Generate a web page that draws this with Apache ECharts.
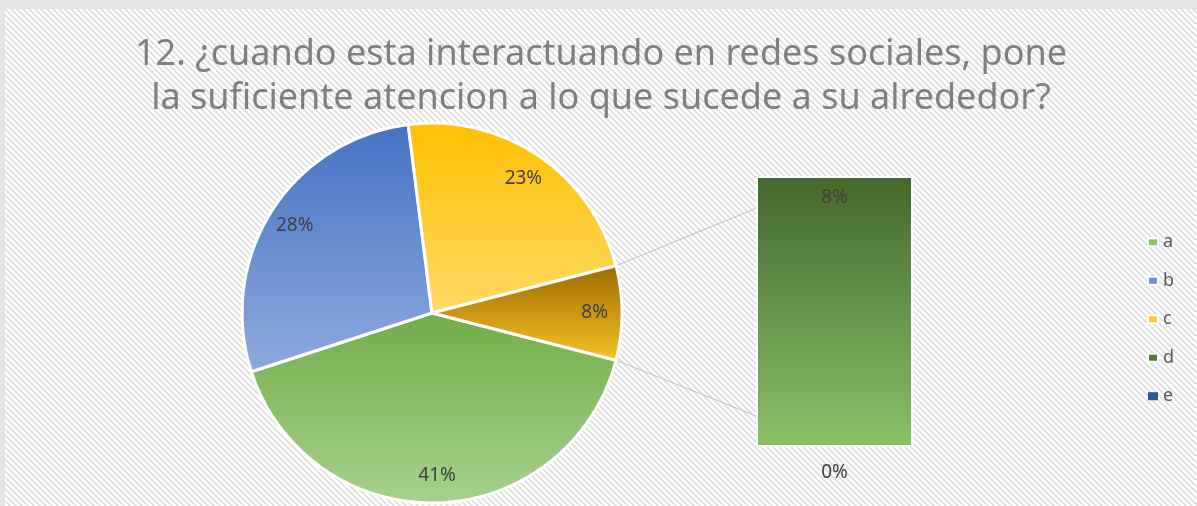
<!DOCTYPE html>
<html>
<head>
<meta charset="utf-8">
<script src="https://cdn.jsdelivr.net/npm/echarts@6/dist/echarts.min.js"></script>
<style>
  html, body { margin: 0; padding: 0; background: #e3e3e3; }
  #main { position: absolute; left: 5px; top: 9px; width: 1192px; height: 497px; }
</style>
</head>
<body>
<div id="main"></div>
<script>
// answers and share (%)
var categories = ['a', 'b', 'c', 'd', 'e'];
var values = [41, 28, 23, 8, 0];
// first three go in the pie, the rest into the bar
var pieCount = 3;
var otherName = 'Otro';

var topColors = ['#70AD47', '#4472C4', '#FFC000'];
var bottomColors = ['#A9D18E', '#8FAADC', '#FFD966'];
var legendColors = ['#8BC36A', '#6F93D6', '#FFC933', '#4E7A32', '#2E5597'];

function grad(a, b) {
    return new echarts.graphic.LinearGradient(0, 0, 0, 1, [
        { offset: 0, color: a }, { offset: 1, color: b }
    ]);
}

// diagonal hatch like excel's background
var hatch = document.createElement('canvas');
hatch.width = 6; hatch.height = 6;
var hc = hatch.getContext('2d');
hc.fillStyle = '#ffffff';
hc.fillRect(0, 0, 6, 6);
hc.strokeStyle = '#dedede';
hc.lineWidth = 1.6;
hc.beginPath();
hc.moveTo(-1, -1); hc.lineTo(7, 7);
hc.moveTo(-1, 5); hc.lineTo(1, 7);
hc.moveTo(5, -1); hc.lineTo(7, 1);
hc.stroke();

var otherValue = 0;
for (var i = pieCount; i < values.length; i++) otherValue += values[i];
var total = otherValue;
for (var i = 0; i < pieCount; i++) total += values[i];
var halfOther = otherValue / total * 180;

var pieData = [];
var labelData = [];
for (var i = 0; i < pieCount; i++) {
    pieData.push({ name: categories[i], value: values[i], itemStyle: { color: grad(topColors[i], bottomColors[i]) } });
    labelData.push({ name: categories[i], value: values[i] });
}
pieData.push({ name: otherName, value: otherValue, itemStyle: { color: grad('#9C6A00', '#F7C325') } });
labelData.push({ name: otherName, value: otherValue });

var cx = 427, cy = 304, r = 190;
var labelFont = { fontSize: 19, fontFamily: 'Noto Sans', color: '#404040' };

var option = {
    backgroundColor: { image: hatch, repeat: 'repeat' },
    animation: false,
    title: {
        text: '12. ¿cuando esta interactuando en redes sociales, pone\nla suficiente atencion a lo que sucede a su alrededor?',
        left: 'center',
        top: 19,
        textStyle: {
            fontFamily: 'Noto Sans',
            fontWeight: 'normal',
            fontSize: 36,
            lineHeight: 44,
            color: '#7f7f7f'
        }
    },
    legend: {
        orient: 'vertical',
        left: 1137,
        top: 219,
        itemWidth: 10,
        itemHeight: 8,
        itemGap: 20,
        icon: 'rect',
        textStyle: { fontSize: 18, color: '#595959', fontFamily: 'Noto Sans', lineHeight: 18.5 },
        data: categories.map(function (c, i) {
            return { name: c, itemStyle: { color: legendColors[i] } };
        })
    },
    grid: { left: 751, top: 167, width: 157, height: 271 },
    xAxis: { type: 'category', data: [otherName], show: false },
    yAxis: { type: 'value', min: 0, max: otherValue, show: false },
    series: [
        {
            type: 'pie',
            center: [cx, cy],
            radius: [0, r],
            startAngle: -halfOther,
            clockwise: true,
            label: { show: false },
            labelLine: { show: false },
            itemStyle: { borderColor: '#ffffff', borderWidth: 3 },
            emphasis: { disabled: true },
            data: pieData
        },
        {
            type: 'pie',
            silent: true,
            center: [cx, cy],
            radius: [r * 0.68, r],
            startAngle: -halfOther,
            clockwise: true,
            itemStyle: { color: 'rgba(0,0,0,0)' },
            label: Object.assign({ show: true, position: 'inside', formatter: '{c}%' }, labelFont),
            labelLine: { show: false },
            data: labelData
        },
        {
            type: 'bar',
            name: categories[4],
            stack: 'otro',
            barWidth: '100%',
            data: [values[4]],
            itemStyle: { color: '#2E5597' },
            label: Object.assign({ show: true, position: 'bottom', distance: 16, formatter: '{c}%' }, labelFont)
        },
        {
            type: 'bar',
            name: categories[3],
            stack: 'otro',
            barWidth: '100%',
            data: [values[3]],
            itemStyle: { color: grad('#43682B', '#8BC06A'), borderColor: '#ffffff', borderWidth: 2 },
            label: Object.assign({ show: true, position: 'insideTop', distance: 12, formatter: '{c}%' }, labelFont)
        }
    ]
};

var myChart = echarts.init(document.getElementById('main'));
myChart.setOption(option);

// connector lines from the edge of the "other" slice to the bar corners
var rad = halfOther * Math.PI / 180;
var topLeft = myChart.convertToPixel({ gridIndex: 0 }, [-0.5, otherValue]);
var botLeft = myChart.convertToPixel({ gridIndex: 0 }, [-0.5, 0]);
myChart.setOption({
    graphic: [
        { type: 'line', z: -1, shape: { x1: cx + r * Math.cos(rad), y1: cy - r * Math.sin(rad), x2: topLeft[0], y2: topLeft[1] }, style: { stroke: '#bfbfbf', lineWidth: 1 } },
        { type: 'line', z: -1, shape: { x1: cx + r * Math.cos(rad), y1: cy + r * Math.sin(rad), x2: botLeft[0], y2: botLeft[1] }, style: { stroke: '#bfbfbf', lineWidth: 1 } }
    ]
});
</script>
</body>
</html>
